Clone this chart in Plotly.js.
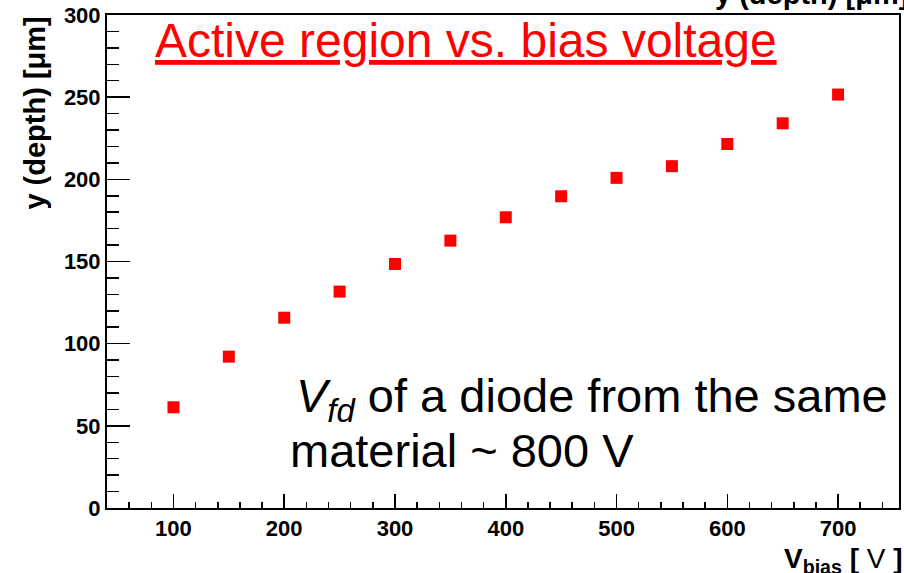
<!DOCTYPE html>
<html>
<head>
<meta charset="utf-8">
<script src="https://cdn.plot.ly/plotly-3.0.1.min.js"></script>
<style>html,body{margin:0;padding:0;background:#fff;}#chart{width:904px;height:573px;}</style>
</head>
<body>
<div id="chart"></div>
<script>
// Data
const biasVoltage = [100, 150, 200, 250, 300, 350, 400, 450, 500, 550, 600, 650, 700];
const depth = [61.3, 92.1, 115.8, 131.7, 148.5, 162.7, 176.9, 189.7, 200.9, 208.0, 221.5, 234.1, 251.6];

const titleText = "Active region vs. bias voltage";
const noteLine1 = "<i>V<sub>fd</sub></i> of a diode from the same";
const noteLine2 = "material ~ 800 V";
const yTitle = "<b>y (depth) [μm]</b>";
const xTitle = "<b>V</b><sub><b>bias</b></sub> <b>[</b> V <b>]</b>";

const FONT = "Liberation Sans, Arial, Helvetica, sans-serif";

const trace = {
  x: biasVoltage,
  y: depth,
  type: "scatter",
  mode: "markers",
  marker: {symbol: "square", size: 12, color: "#ff0000", line: {width: 0}},
  cliponaxis: false,
  hoverinfo: "x+y"
};

const layout = {
  width: 904,
  height: 573,
  margin: {l: 107, r: 5, t: 15, b: 65, pad: 0},
  paper_bgcolor: "#ffffff",
  plot_bgcolor: "#ffffff",
  showlegend: false,
  font: {family: FONT, color: "#000"},
  xaxis: {
    range: [40, 755],
    tick0: 0,
    dtick: 100,
    ticks: "inside",
    ticklen: 14,
    tickwidth: 1.5,
    tickcolor: "#000",
    showline: true,
    linecolor: "#000",
    linewidth: 2,
    mirror: true,
    showgrid: false,
    zeroline: false,
    tickfont: {family: FONT, size: 22, weight: "bold", color: "#000"},
    minor: {dtick: 20, tick0: 0, ticks: "inside", ticklen: 6, tickwidth: 1.5, tickcolor: "#000", showgrid: false}
  },
  yaxis: {
    range: [0, 300],
    tick0: 0,
    dtick: 50,
    ticks: "inside",
    ticklen: 23,
    tickwidth: 1.5,
    tickcolor: "#000",
    showline: true,
    linecolor: "#000",
    linewidth: 2,
    mirror: true,
    showgrid: false,
    zeroline: false,
    tickfont: {family: FONT, size: 22, weight: "bold", color: "#000"},
    minor: {dtick: 10, tick0: 0, ticks: "inside", ticklen: 12, tickwidth: 1.5, tickcolor: "#000", showgrid: false}
  },
  annotations: [
    {
      text: titleText, xref: "paper", yref: "paper",
      x: 0.0582, y: 1, xanchor: "left", yanchor: "top", yshift: 3,
      showarrow: false,
      font: {family: FONT, size: 48, color: "#ff0000", lineposition: "under"}
    },
    {
      text: noteLine1, xref: "paper", yref: "paper",
      x: 0.2365, y: 0.286, xanchor: "left", yanchor: "top",
      showarrow: false,
      font: {family: FONT, size: 47, color: "#000"}
    },
    {
      text: noteLine2, xref: "paper", yref: "paper",
      x: 0.2290, y: 0.1744, xanchor: "left", yanchor: "top",
      showarrow: false,
      font: {family: FONT, size: 47, color: "#000"}
    },
    {
      text: yTitle, xref: "paper", yref: "paper",
      x: 0, xshift: -72, y: 0.800, xanchor: "center", yanchor: "middle",
      textangle: -90, showarrow: false,
      font: {family: FONT, size: 29, color: "#000"}
    },
    {
      text: yTitle, xref: "paper", yref: "paper",
      x: 0.765, y: 1.0112, yshift: -3, xanchor: "left", yanchor: "bottom",
      showarrow: false,
      font: {family: FONT, size: 29, color: "#000"}
    },
    {
      text: xTitle, xref: "paper", yref: "paper",
      x: 1.0076, y: -0.0629, yshift: -2, xanchor: "right", yanchor: "top",
      showarrow: false,
      font: {family: FONT, size: 28, color: "#000"}
    }
  ]
};

Plotly.newPlot("chart", [trace], layout, {displayModeBar: false, staticPlot: true});
</script>
</body>
</html>
